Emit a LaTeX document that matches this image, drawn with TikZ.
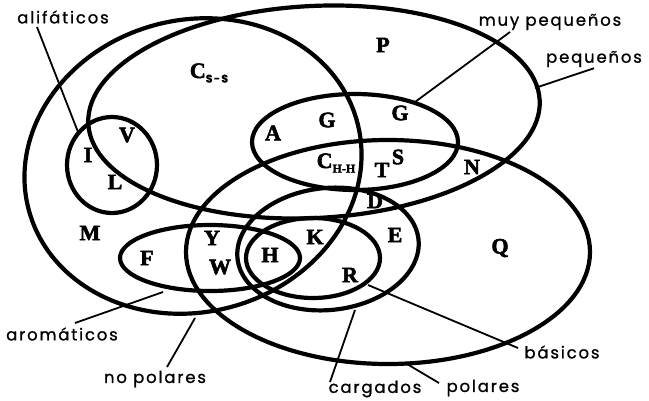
\documentclass[tikz,border=0pt]{standalone}
\usepackage{fontspec}
\newfontfamily\tagfont[LetterSpace=11,FakeBold=1]{Poppins}
\newfontfamily\aafont[BoldFeatures={FakeBold=2.5}]{Liberation Serif}
\usetikzlibrary{calc,positioning}
\definecolor{ink}{gray}{0.0}
\begin{document}
\begin{tikzpicture}[x=1pt,y=-1pt,
   rg/.style={draw=ink, line width=4.2pt},
   pt/.style={draw=ink, line width=1.8pt},
   aa/.style={text=ink, inner sep=0pt, font=\aafont\bfseries\fontsize{22}{22}\selectfont},
   lb/.style={text=ink, inner sep=1pt, font=\tagfont\fontsize{16.5}{16.5}\selectfont}]
  \useasboundingbox (0,0) rectangle (649,400);
  % sets
  \draw[rg, rotate around={15:(193,166)}] (193,166) ellipse (170 and 146);   % no polares
  \draw[rg, rotate around={3:(314,112)}] (314,112) ellipse (226 and 106);    % pequenos
  \draw[rg] (355,142) ellipse (103 and 48);  % muy pequenos
  \draw[rg] (388,252) ellipse (202 and 112); % polares
  \draw[rg, rotate around={6:(328,249)}] (328,249) ellipse (91 and 61);   % cargados
  \draw[rg] (313,258) ellipse (67 and 40);   % basicos
  \draw[rg] (210,258) ellipse (90 and 33);   % aromaticos
  \draw[rg] (112,165) ellipse (45 and 48);   % alifaticos
  % amino acids
  \node[aa](cSS) at (209,73){C\raisebox{-0.45ex}{\tagfont\fontsize{11}{11}\selectfont S-S}};
  \node[aa](P) at (383,45){P};
  \node[aa](V) at (127,135){V}; \node[aa](I) at (88,155){I}; \node[aa](L) at (115,182){L};
  \node[aa](A) at (273,133){A}; \node[aa](G1) at (327,120){G}; \node[aa](G2) at (400,113){G};
  \node[aa](cHH) at (336,163){C\raisebox{-0.45ex}{\fontsize{12}{12}\selectfont H-H}};
  \node[aa](S) at (398,157){S}; \node[aa](T) at (382,170){T}; \node[aa](N) at (472,167){N};
  \node[aa](D) at (375,201){D}; \node[aa](E) at (395,235){E}; \node[aa](K) at (315,237){K};
  \node[aa](R) at (350,275){R}; \node[aa](H) at (270,255){H}; \node[aa](Y) at (212,238){Y};
  \node[aa](W) at (220,267){W}; \node[aa](F) at (147,258){F}; \node[aa](M) at (90,233){M};
  \node[aa](Q) at (500,248){Q};
  % tags
  \node[lb](tAli) at (63,17){alifáticos};
  \node[lb](tMuy) at (550,22){muy pequeños};
  \node[lb](tPeq) at (594,59){pequeños};
  \node[lb](tAro) at (62,334){aromáticos};
  \node[lb](tNop) at (155,379){no polares};
  \node[lb](tCar) at (375,389){cargados};
  \node[lb](tPol) at (483,388){polares};
  \node[lb](tBas) at (562,352){básicos};
  \coordinate (eAli) at (78,132); \coordinate (eMuy) at (415,102);
  \coordinate (ePeq) at (535,88); \coordinate (eAro) at (163,292);
  \coordinate (eNop) at (195,318); \coordinate (eCar) at (355,310);
  \coordinate (ePol) at (407,364); \coordinate (eBas) at (368,285);
  \draw[pt] (37,27) -- (eAli);
  \draw[pt] (510,32) -- (eMuy);
  \draw[pt] (tPeq.south) -- (ePeq);
  \draw[pt] (75,323) -- (eAro);
  \draw[pt] (167,367) -- (eNop);
  \draw[pt] (330,382) -- (eCar);
  \draw[pt] (439,383) -- (ePol);
  \draw[pt] (518,348) -- (eBas);
\end{tikzpicture}
\end{document}
